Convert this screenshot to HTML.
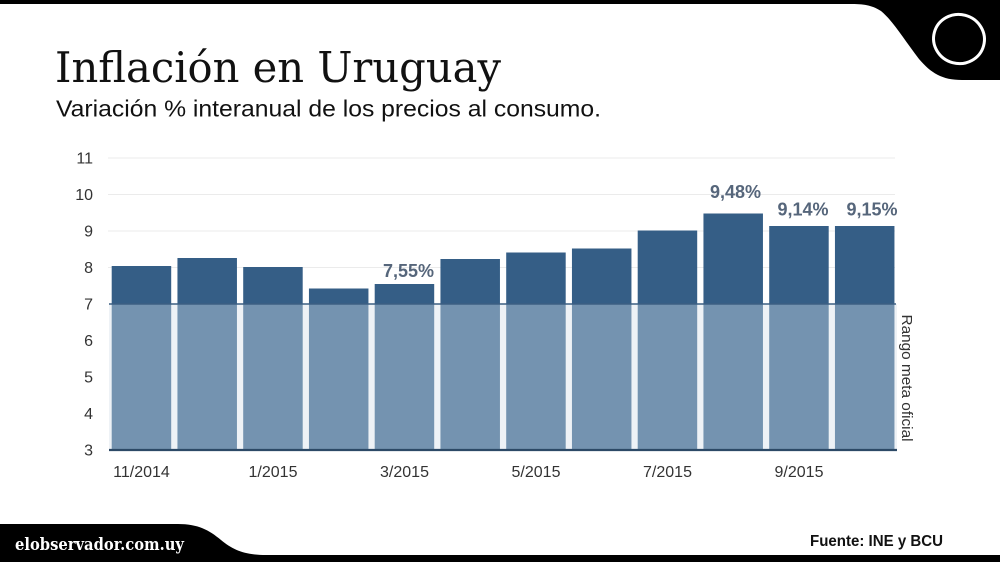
<!DOCTYPE html>
<html>
<head>
<meta charset="utf-8">
<style>
  html,body{margin:0;padding:0;background:#fff;}
  svg{display:block;}
  text{font-family:"Liberation Sans",sans-serif;}
</style>
</head>
<body>
<svg width="1000" height="562" viewBox="0 0 1000 562" xmlns="http://www.w3.org/2000/svg">
  <rect x="0" y="0" width="1000" height="562" fill="#ffffff"/>

  <!-- top band + logo shape -->
  <path d="M0,0 L1000,0 L1000,80 L962,80 C942,80 931,73 919,59 C903,38 893,21 881,11 C873,6 866,4 852,4 L0,4 Z" fill="#000"/>
  <ellipse cx="959" cy="39" rx="25.5" ry="24.5" fill="none" stroke="#fff" stroke-width="3" transform="rotate(15 959 39)"/>

  <!-- bottom band -->
  <path d="M0,524 L178,524 C198,524 209,530 221,540 C233,550 245,555 266,555 L1000,555 L1000,562 L0,562 Z" fill="#000"/>

  <!-- title -->
  <text x="55" y="82" font-family="DejaVu Serif, Liberation Serif, serif" font-size="42" fill="#111" textLength="446" lengthAdjust="spacingAndGlyphs" style="font-family:'DejaVu Serif','Liberation Serif',serif">Inflación en Uruguay</text>
  <text x="56" y="116.5" font-size="23" fill="#111" textLength="545" lengthAdjust="spacingAndGlyphs">Variación % interanual de los precios al consumo.</text>

  <!-- gridlines -->
  <g stroke="#ebebeb" stroke-width="1">
    <line x1="108" y1="158" x2="895" y2="158"/>
    <line x1="108" y1="194.5" x2="895" y2="194.5"/>
    <line x1="108" y1="231" x2="895" y2="231"/>
    <line x1="108" y1="267.5" x2="895" y2="267.5"/>
  </g>

  <!-- y labels -->
  <g font-size="16" fill="#333" text-anchor="end">
    <text x="93" y="163.5">11</text>
    <text x="93" y="200">10</text>
    <text x="93" y="236.5">9</text>
    <text x="93" y="273">8</text>
    <text x="93" y="309.5">7</text>
    <text x="93" y="346">6</text>
    <text x="93" y="382.5">5</text>
    <text x="93" y="419">4</text>
    <text x="93" y="455.5">3</text>
  </g>

  <!-- light lower bars (target range) -->
  <rect x="109" y="304" width="788" height="146" fill="#eef2f6"/>
  <g fill="#7493b0">
    <rect x="111.7" y="304" width="59.5" height="146"/>
    <rect x="177.45" y="304" width="59.5" height="146"/>
    <rect x="243.2" y="304" width="59.5" height="146"/>
    <rect x="308.95" y="304" width="59.5" height="146"/>
    <rect x="374.7" y="304" width="59.5" height="146"/>
    <rect x="440.45" y="304" width="59.5" height="146"/>
    <rect x="506.2" y="304" width="59.5" height="146"/>
    <rect x="571.95" y="304" width="59.5" height="146"/>
    <rect x="637.7" y="304" width="59.5" height="146"/>
    <rect x="703.45" y="304" width="59.5" height="146"/>
    <rect x="769.2" y="304" width="59.5" height="146"/>
    <rect x="834.95" y="304" width="59.5" height="146"/>
  </g>

  <!-- dark upper bars -->
  <g fill="#355e86">
    <rect x="111.7" y="266" width="59.5" height="38"/>
    <rect x="177.45" y="258" width="59.5" height="46"/>
    <rect x="243.2" y="267" width="59.5" height="37"/>
    <rect x="308.95" y="288.5" width="59.5" height="15.5"/>
    <rect x="374.7" y="284" width="59.5" height="20"/>
    <rect x="440.45" y="259" width="59.5" height="45"/>
    <rect x="506.2" y="252.5" width="59.5" height="51.5"/>
    <rect x="571.95" y="248.5" width="59.5" height="55.5"/>
    <rect x="637.7" y="230.5" width="59.5" height="73.5"/>
    <rect x="703.45" y="213.5" width="59.5" height="90.5"/>
    <rect x="769.2" y="226" width="59.5" height="78"/>
    <rect x="834.95" y="226" width="59.5" height="78"/>
  </g>

  <!-- 7 line -->
  <line x1="109" y1="304" x2="896" y2="304" stroke="#3c5f82" stroke-width="1.5"/>
  <!-- x axis -->
  <line x1="109" y1="450" x2="897" y2="450" stroke="#2c4966" stroke-width="2.2"/>

  <!-- data labels -->
  <g font-size="18" font-weight="bold" fill="#56667b" text-anchor="middle">
    <text x="408.5" y="277">7,55%</text>
    <text x="735.5" y="198">9,48%</text>
    <text x="803" y="215.5">9,14%</text>
    <text x="872" y="215.5">9,15%</text>
  </g>

  <!-- x labels -->
  <g font-size="16" fill="#333" text-anchor="middle">
    <text x="141.5" y="477">11/2014</text>
    <text x="273" y="477">1/2015</text>
    <text x="404.5" y="477">3/2015</text>
    <text x="536" y="477">5/2015</text>
    <text x="667.5" y="477">7/2015</text>
    <text x="799" y="477">9/2015</text>
  </g>

  <!-- range label -->
  <text transform="translate(902 378) rotate(90)" font-size="15" fill="#333" text-anchor="middle" textLength="127" lengthAdjust="spacingAndGlyphs">Rango meta oficial</text>

  <!-- footer text -->
  <text x="15" y="550" font-size="17" font-weight="bold" fill="#fff" textLength="169" lengthAdjust="spacingAndGlyphs" style="font-family:'DejaVu Serif','Liberation Serif',serif">elobservador.com.uy</text>
  <text x="810" y="546" font-size="16" font-weight="bold" fill="#111" textLength="133" lengthAdjust="spacingAndGlyphs">Fuente: INE y BCU</text>
</svg>
</body>
</html>
